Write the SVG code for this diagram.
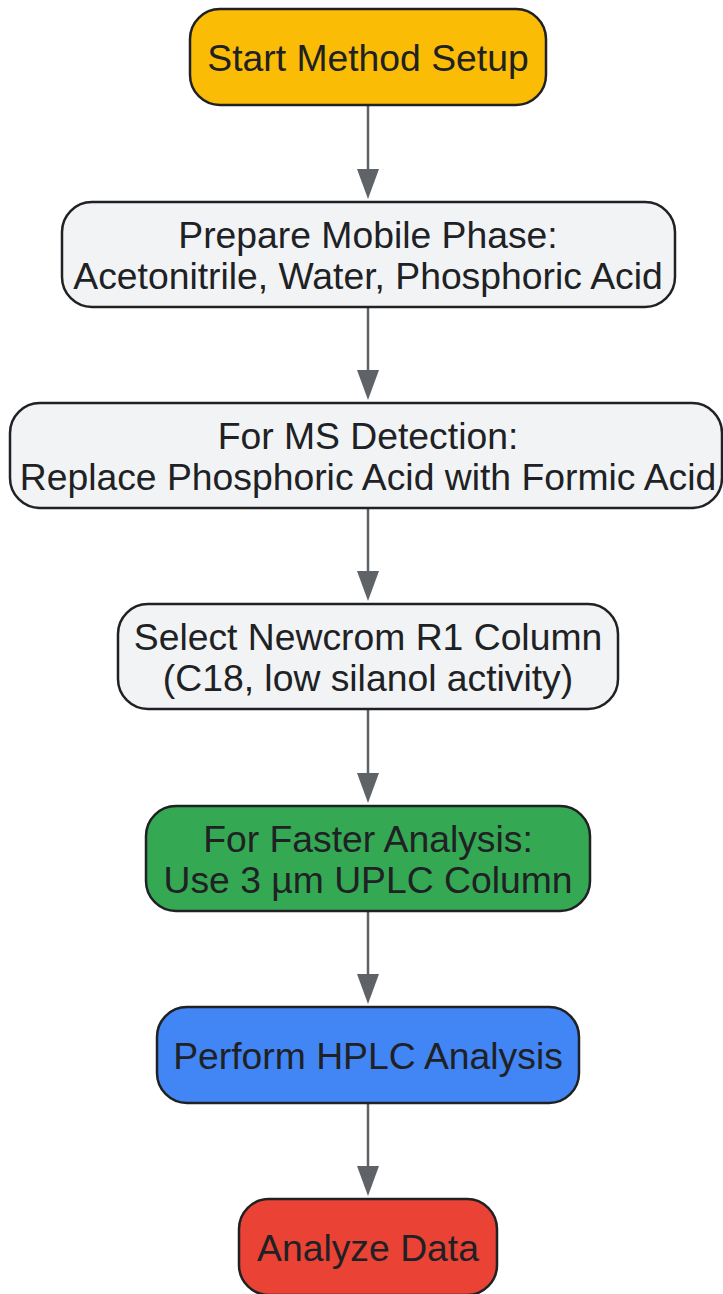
<svg xmlns="http://www.w3.org/2000/svg" width="723" height="1294" viewBox="0 0 723 1294">
  <defs>
    <style>
      .node rect { stroke: #202124; stroke-width: 2.5; }
      .node text { font-family: "Liberation Sans", Arial, sans-serif; font-size: 37.3px; fill: #202124; text-anchor: middle; }
      .edge { stroke: #5F6368; stroke-width: 2.5; fill: none; }
      .head { fill: #5F6368; }
    </style>
  </defs>
  <rect width="723" height="1294" fill="#ffffff"/>
  <g id="connectors">
    <line class="edge" x1="368" y1="105" x2="368" y2="170"/>
    <path class="head" d="M357,169 L379,169 L368,199 Z"/>
    <line class="edge" x1="368" y1="307" x2="368" y2="371"/>
    <path class="head" d="M357,370 L379,370 L368,400 Z"/>
    <line class="edge" x1="368" y1="508" x2="368" y2="572"/>
    <path class="head" d="M357,571 L379,571 L368,601 Z"/>
    <line class="edge" x1="368" y1="709" x2="368" y2="774"/>
    <path class="head" d="M357,773 L379,773 L368,803 Z"/>
    <line class="edge" x1="368" y1="911" x2="368" y2="975"/>
    <path class="head" d="M357,974 L379,974 L368,1004 Z"/>
    <line class="edge" x1="368" y1="1103" x2="368" y2="1167"/>
    <path class="head" d="M357,1166 L379,1166 L368,1196 Z"/>
  </g>
  <g id="start" class="node">
    <rect x="190" y="9" width="356" height="96" rx="30" fill="#FBBC05"/>
    <text x="368" y="71">Start Method Setup</text>
  </g>
  <g id="prepare" class="node">
    <rect x="62" y="202" width="613" height="105" rx="30" fill="#F1F3F4"/>
    <text x="368" y="248">Prepare Mobile Phase:</text>
    <text x="368" y="289">Acetonitrile, Water, Phosphoric Acid</text>
  </g>
  <g id="ms" class="node">
    <rect x="10" y="403" width="712" height="105" rx="30" fill="#F1F3F4"/>
    <text x="368" y="449">For MS Detection:</text>
    <text x="368" y="490">Replace Phosphoric Acid with Formic Acid</text>
  </g>
  <g id="column" class="node">
    <rect x="118" y="604" width="500" height="105" rx="30" fill="#F1F3F4"/>
    <text x="368" y="650">Select Newcrom R1 Column</text>
    <text x="368" y="691">(C18, low silanol activity)</text>
  </g>
  <g id="faster" class="node">
    <rect x="146" y="806" width="444" height="105" rx="30" fill="#34A853"/>
    <text x="368" y="852">For Faster Analysis:</text>
    <text x="368" y="893">Use 3 µm UPLC Column</text>
  </g>
  <g id="perform" class="node">
    <rect x="157" y="1007" width="422" height="96" rx="30" fill="#4285F4"/>
    <text x="368" y="1069">Perform HPLC Analysis</text>
  </g>
  <g id="analyze" class="node">
    <rect x="239" y="1199" width="258" height="96" rx="30" fill="#EA4335"/>
    <text x="368" y="1261">Analyze Data</text>
  </g>
</svg>
